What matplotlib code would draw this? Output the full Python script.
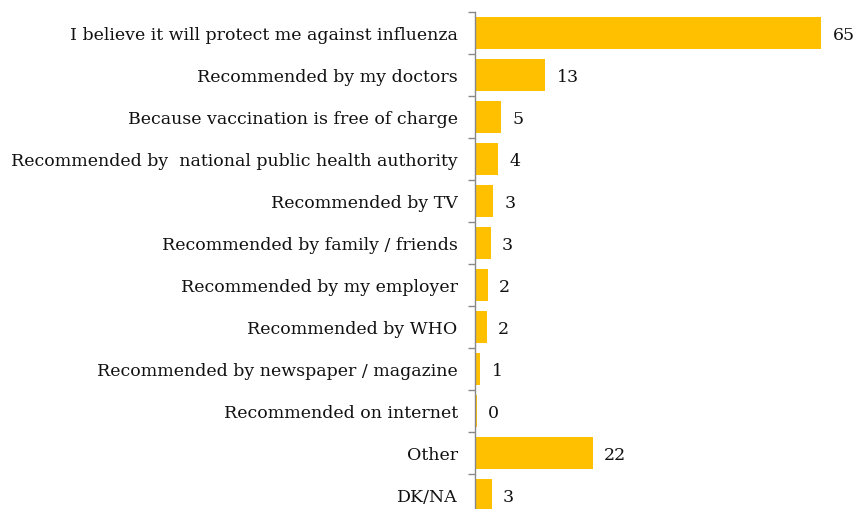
import matplotlib
matplotlib.use("Agg")
import matplotlib.pyplot as plt
import numpy as np

categories = [
    "I believe it will protect me against influenza",
    "Recommended by my doctors",
    "Because vaccination is free of charge",
    "Recommended by  national public health authority",
    "Recommended by TV",
    "Recommended by family / friends",
    "Recommended by my employer",
    "Recommended by WHO",
    "Recommended by newspaper / magazine",
    "Recommended on internet",
    "Other",
    "DK/NA",
]
values = [65, 13.2, 4.9, 4.3, 3.4, 3.0, 2.4, 2.2, 1.0, 0.4, 22.1, 3.1]
labels = ["65", "13", "5", "4", "3", "3", "2", "2", "1", "0", "22", "3"]

W, H = 856, 509
fig = plt.figure(figsize=(W / 100, H / 100), dpi=100)
left = 475 / W
top = 1 - 12 / H
bottom = 1 - 516 / H
ax = fig.add_axes([left, bottom, 1 - left, top - bottom])

n = len(categories)
y = np.arange(n)
ax.barh(y, values, height=0.74, color="#FFC000", edgecolor="none")
ax.set_ylim(n - 0.5, -0.5)
ax.set_xlim(0, 71.5)

font = dict(family="DejaVu Serif", size=12.5, color="#111111")
ax.set_yticks(y)
ax.set_yticklabels(categories, **font)
ax.tick_params(axis="y", which="major", length=0, pad=12.5)
ax.set_yticks(np.arange(-0.5, n, 1), minor=True)
ax.tick_params(axis="y", which="minor", length=5, width=1, color="#888888")
ax.set_xticks([])

for s in ["top", "right", "bottom"]:
    ax.spines[s].set_visible(False)
ax.spines["left"].set_color("#888888")
ax.spines["left"].set_linewidth(1)

for yi, v, lab in zip(y, values, labels):
    ax.annotate(lab, (v, yi), xytext=(8, -1.5), textcoords="offset points",
                va="center", ha="left", **font)

fig.savefig("out.png", dpi=100)
